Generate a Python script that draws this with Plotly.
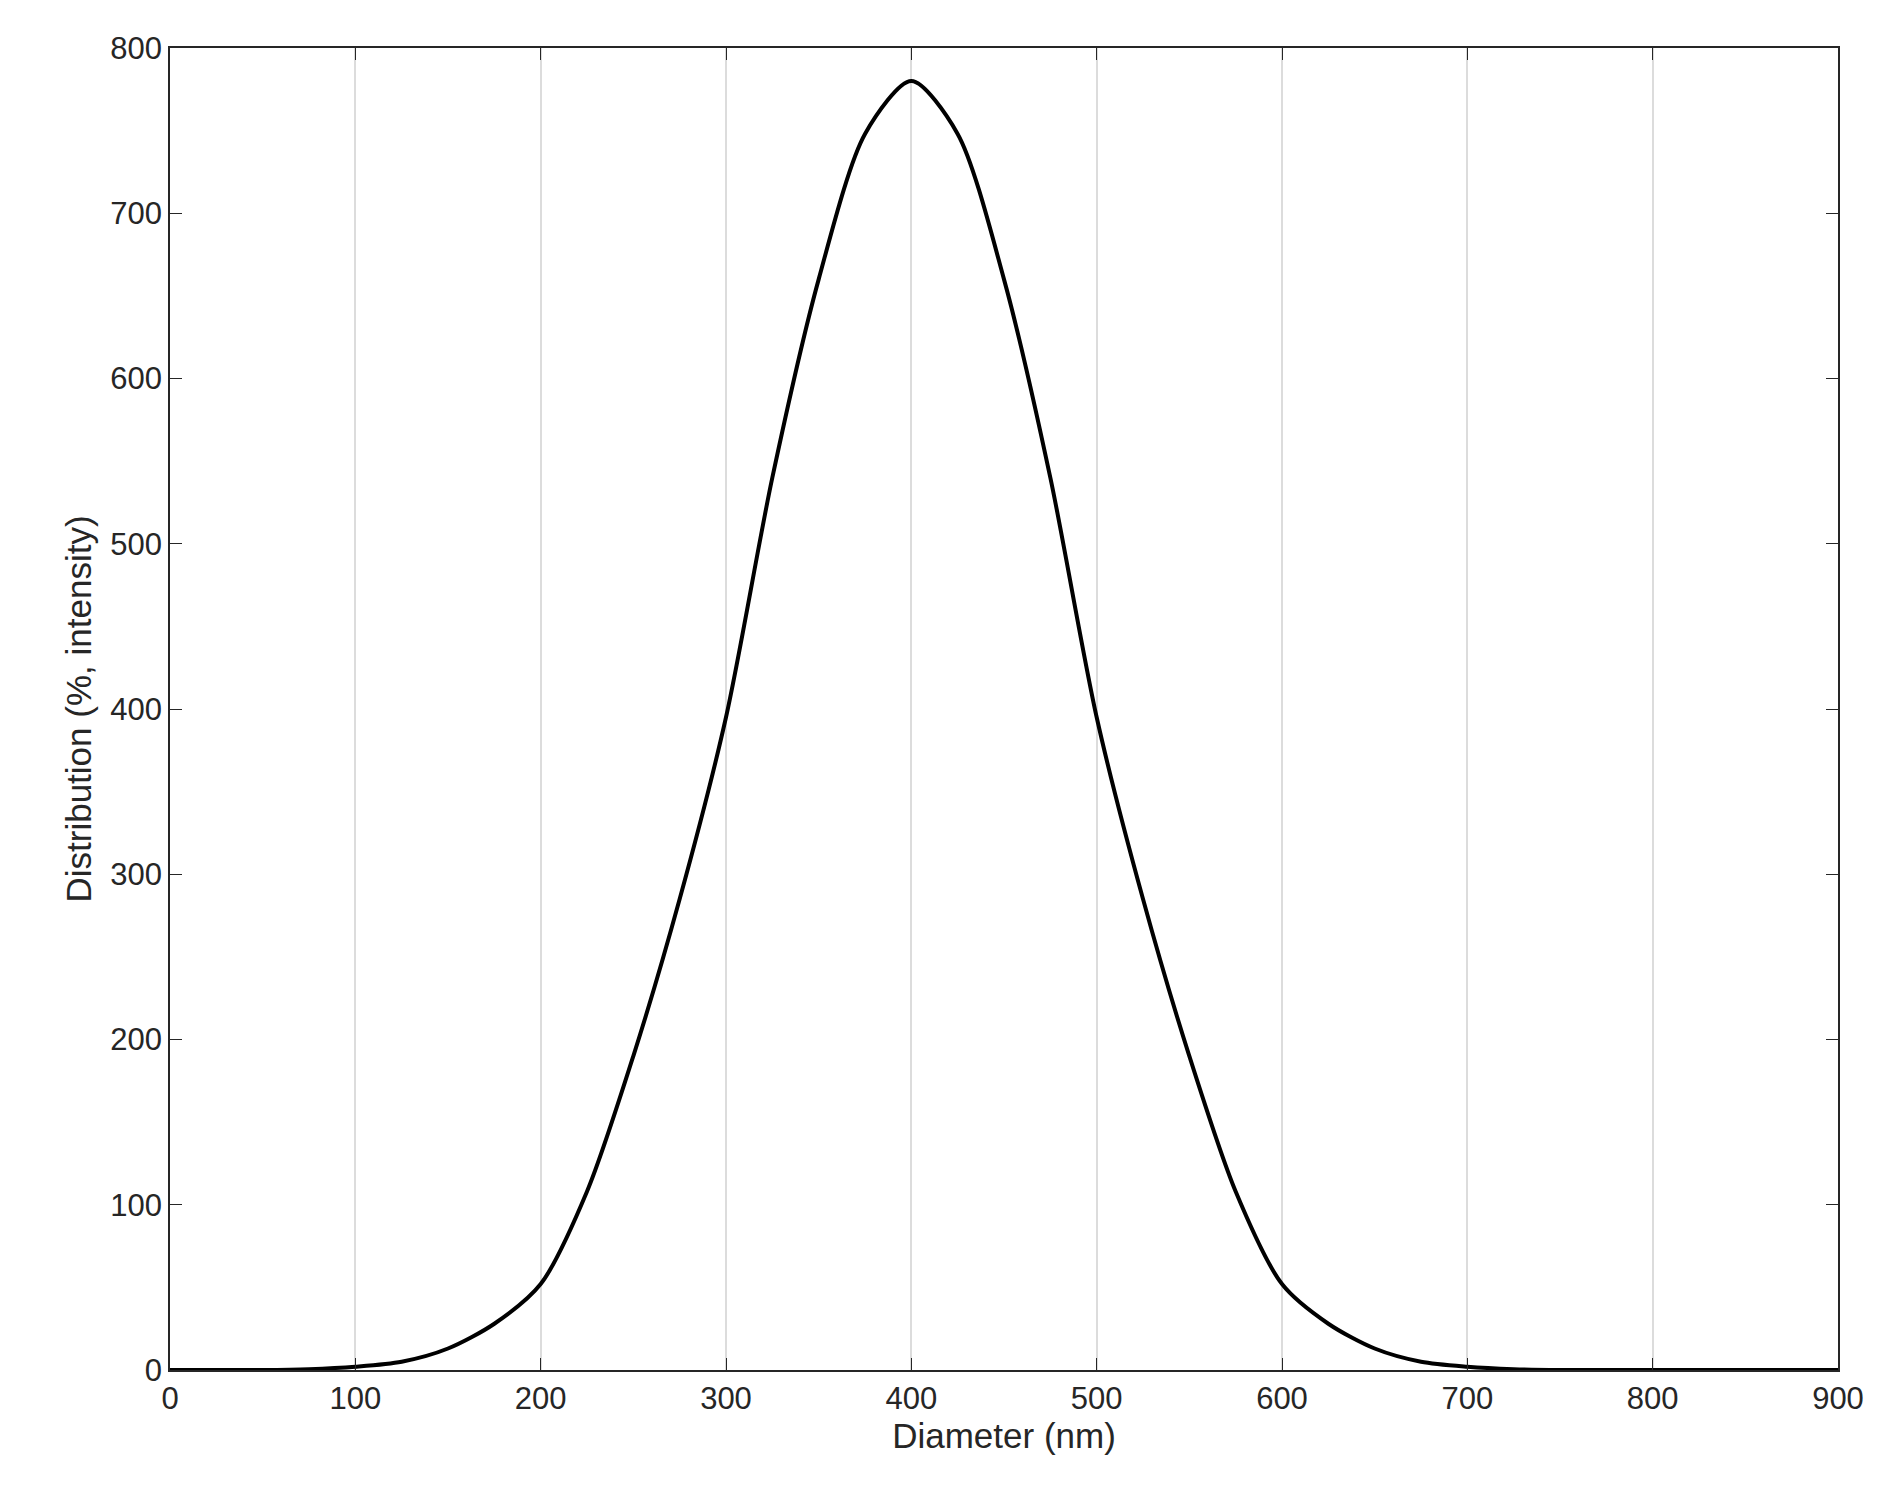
import plotly.graph_objects as go

diameter = [0, 25, 50, 75, 100, 125, 150, 175, 200, 225, 250, 275, 300, 325, 350, 375, 400,
            425, 450, 475, 500, 525, 550, 575, 600, 625, 650, 675, 700, 725, 750, 800, 850, 900]
distribution = [0, 0, 0, 0.5, 2, 5, 13, 28, 52, 108, 190, 285, 395, 540, 660, 748, 780,
                748, 660, 540, 395, 285, 190, 108, 52, 28, 13, 5, 2, 0.5, 0, 0, 0, 0]

fig = go.Figure(go.Scatter(x=diameter, y=distribution, mode="lines",
                           line=dict(color="black", width=4, shape="spline", smoothing=0.8)))
axis_common = dict(showline=True, linecolor="#262626", linewidth=1.5, mirror="ticks",
                   ticks="inside", ticklen=12, tickcolor="#262626", zeroline=False,
                   tickfont=dict(size=31, color="#262626"))
fig.update_xaxes(range=[0, 900], dtick=100, showgrid=True, gridcolor="#dcdcdc", gridwidth=1.5,
                 title=dict(text="Diameter (nm)", font=dict(size=35, color="#262626"), standoff=8),
                 **axis_common)
fig.update_yaxes(range=[0, 800], dtick=100, showgrid=False,
                 title=dict(text="Distribution (%, intensity)", font=dict(size=35, color="#262626"), standoff=8),
                 **axis_common)
fig.update_layout(width=1881, height=1506, plot_bgcolor="white", paper_bgcolor="white",
                  font=dict(family="Liberation Sans, Arial"), showlegend=False,
                  margin=dict(l=162, r=51, t=40, b=144))
fig.write_html("out.html")
